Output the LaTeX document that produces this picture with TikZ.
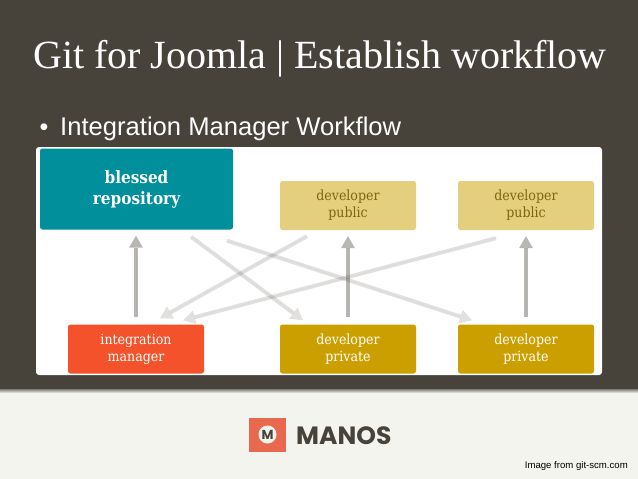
\documentclass[tikz,border=0pt]{standalone}
\usepackage{fontspec}
\setmainfont{Liberation Serif}
\setsansfont{Liberation Sans}
\newfontfamily\boxfont{DejaVu Serif Condensed}
\newfontfamily\logofont{Poppins}
\usetikzlibrary{arrows.meta}
\definecolor{slide}{HTML}{47433A}
\definecolor{foot}{HTML}{F4F4EE}
\definecolor{teal}{HTML}{008F9B}
\definecolor{publicbox}{HTML}{E4CF7F}
\definecolor{publictext}{HTML}{7F6510}
\definecolor{privatebox}{HTML}{CC9F00}
\definecolor{manager}{HTML}{F4522A}
\definecolor{logored}{HTML}{E9694E}

\begin{document}
\begin{tikzpicture}[x=1pt,y=-1pt,font=\boxfont]
    \tikzstyle{repo}=[rectangle,rounded corners=2.5pt,minimum width=136pt,minimum height=49pt,inner sep=0pt,align=center,text=white,font=\boxfont\fontsize{14}{17}\selectfont]
    \tikzstyle{blessed}=[repo,fill=teal,minimum width=193pt,minimum height=81pt,font=\boxfont\bfseries\fontsize{17}{21}\selectfont]
    \tikzstyle{public}=[repo,fill=publicbox,text=publictext]
    \tikzstyle{private}=[repo,fill=privatebox]
    \tikzstyle{push}=[-{Triangle[length=12pt,width=14pt,line width=0pt]},line width=4pt,draw=slide,fill=slide,opacity=.38,shorten >=6pt,shorten <=7pt]
    \tikzstyle{fetch}=[-{Triangle[length=12pt,width=14pt,line width=0pt]},line width=4pt,draw=slide,fill=slide,opacity=.16]

    \useasboundingbox (0,0) rectangle (638,479);
    \fill[slide] (0,0) rectangle (638,390);
    \fill[foot] (0,390) rectangle (638,479);
    \shade[top color=slide!70,bottom color=foot] (0,389) rectangle (638,393);
    \fill[white,rounded corners=3pt] (36,147) rectangle (602,375);

    \node[anchor=base west,inner sep=0pt,text=white,font=\rmfamily\fontsize{40}{40}\selectfont] (title) at (33,68) {Git for Joomla | Establish workflow};
    \node[anchor=base west,text=white,inner sep=0pt,font=\sffamily\fontsize{25.6}{25.6}\selectfont] (point) at (60,135) {Integration Manager Workflow};
    \node[anchor=base,text=white,inner sep=0pt,font=\sffamily\fontsize{25}{25}\selectfont] (bullet) at (44,135) {•};

    \node[blessed] (repository) at (136.5,189) {blessed\\repository};
    \node[public] (publicA) at (348,205.5) {developer\\public};
    \node[public] (publicB) at (526,205.5) {developer\\public};
    \node[repo,fill=manager] (integration) at (136,349) {integration\\manager};
    \node[private] (privateA) at (348,349) {developer\\private};
    \node[private] (privateB) at (526,349) {developer\\private};

    \draw[push] (integration.north) -- (repository.south -| integration.north);
    \draw[push] (privateA.north) -- (publicA.south);
    \draw[push] (privateB.north) -- (publicB.south);

    \draw[fetch] ([xshift=54.5pt,yshift=-7pt]repository.south) -- ([xshift=-45pt,yshift=4pt]privateA.north);
    \draw[fetch] ([xshift=90.5pt,yshift=-11pt]repository.south) -- ([xshift=-54pt,yshift=4pt]privateB.north);
    \draw[fetch] ([xshift=-41pt,yshift=-6pt]publicA.south) -- ([xshift=24pt,yshift=6pt]integration.north);
    \draw[fetch] ([xshift=-30pt,yshift=-8pt]publicB.south) -- ([xshift=47pt,yshift=4pt]integration.north);

    \node[rectangle,fill=logored,minimum width=37pt,minimum height=34pt,inner sep=0pt] (logo) at (267.5,434.5) {};
    \node[circle,fill=foot,minimum size=18pt,inner sep=0pt,text=slide,font=\logofont\bfseries\fontsize{13}{13}\selectfont] (logomark) at (logo.center) {M};
    \node[anchor=base west,inner sep=0pt,text=slide,font=\logofont\bfseries\fontsize{25}{25}\selectfont] (manos) at (296,444) {MANOS};
    \node[anchor=base east,inner sep=0pt,text=black,font=\sffamily\fontsize{9.6}{9.6}\selectfont] (source) at (628,468) {Image from git-scm.com};
\end{tikzpicture}
\end{document}
